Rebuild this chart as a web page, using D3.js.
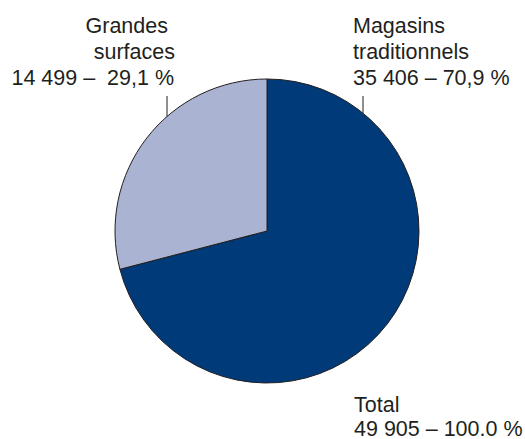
<!DOCTYPE html>
<html>
<head>
<meta charset="utf-8">
<script src="https://cdn.jsdelivr.net/npm/d3@7"></script>
<style>
  html, body { margin: 0; padding: 0; background: #fff; }
  svg { display: block; }
  text { font-family: "Liberation Sans", Arial, sans-serif; font-size: 21.5px; fill: #231f20; }
</style>
</head>
<body>
<svg id="chart" width="525" height="439"></svg>
<script>
// Ventes par type de commerce
const categories = ["Magasins traditionnels", "Grandes surfaces"];
const values = [35406, 14499];
const shareLabels = ["35 406 – 70,9 %", "14 499 –  29,1 %"];
const totalLabel = ["Total", "49 905 – 100.0 %"];
const colors = ["#003a78", "#aab4d2"];

const svg = d3.select("#chart");
const cx = 267, cy = 231, radius = 152;

const pie = d3.pie().sort(null).value(d => d)
  .startAngle(0).endAngle(2 * Math.PI);
const arcs = pie(values);
const arc = d3.arc().innerRadius(0).outerRadius(radius);

const g = svg.append("g").attr("transform", `translate(${cx},${cy})`);
g.selectAll("path")
  .data(arcs)
  .join("path")
  .attr("d", arc)
  .attr("fill", (d, i) => colors[i])
  .attr("stroke", "#231f20")
  .attr("stroke-width", 1);

// Leader ticks from the labels down to the rim
const tickX = [363, 167];
tickX.forEach(x => {
  const dx = x - cx;
  const yEdge = cy - Math.sqrt(radius * radius - dx * dx);
  svg.append("line")
    .attr("x1", x).attr("x2", x)
    .attr("y1", 96).attr("y2", yEdge)
    .attr("stroke", "#231f20").attr("stroke-width", 1);
});

// Labels
const rightLines = ["Magasins", "traditionnels", shareLabels[0]];
rightLines.forEach((t, i) => {
  svg.append("text").attr("x", 353).attr("y", 33 + i * 26).text(t);
});

const leftLines = [
  { t: "Grandes", x: 168 },
  { t: "surfaces", x: 175 },
  { t: shareLabels[1], x: 174 }
];
leftLines.forEach((d, i) => {
  svg.append("text").attr("x", d.x).attr("y", 33 + i * 26)
    .attr("text-anchor", "end").style("white-space", "pre").text(d.t);
});

totalLabel.forEach((t, i) => {
  svg.append("text").attr("x", 354).attr("y", 412 + i * 23.5).text(t);
});
</script>
</body>
</html>
